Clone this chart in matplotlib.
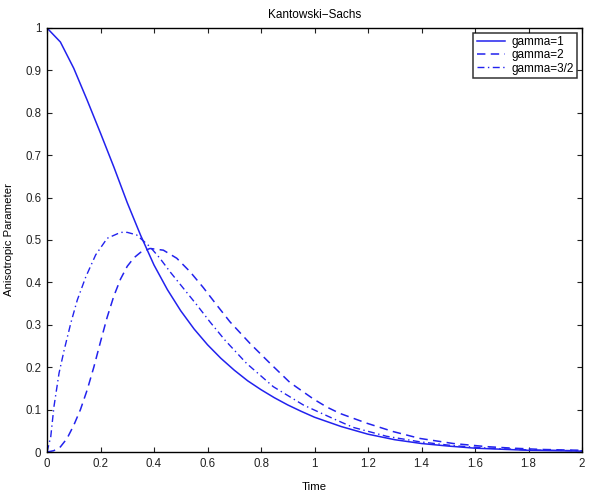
import matplotlib
matplotlib.use("Agg")
import matplotlib.pyplot as plt

plt.rcParams['font.family'] = ['Liberation Sans', 'DejaVu Sans']

# gamma = 1 (solid)
t1 = [0, 0.05, 0.1, 0.15, 0.2, 0.25, 0.3, 0.35, 0.4, 0.45, 0.5, 0.55, 0.6, 0.65,
      0.7, 0.75, 0.8, 0.85, 0.9, 0.95, 1.0, 1.1, 1.2, 1.3, 1.4, 1.5, 1.6, 1.8, 2.0]
v1 = [1, 0.967, 0.905, 0.83, 0.752, 0.672, 0.588, 0.511, 0.441, 0.383, 0.333, 0.29,
      0.253, 0.221, 0.193, 0.168, 0.147, 0.128, 0.111, 0.096, 0.082, 0.06, 0.042,
      0.029, 0.02, 0.014, 0.009, 0.004, 0.002]

# gamma = 2 (dashed)
t2 = [0, 0.025, 0.05, 0.075, 0.1, 0.125, 0.15, 0.175, 0.2, 0.225, 0.25, 0.275,
      0.3, 0.325, 0.35, 0.385, 0.435, 0.485, 0.535, 0.584, 0.634, 0.684, 0.759,
      0.834, 0.908, 0.996, 1.046, 1.095, 1.195, 1.295, 1.394, 1.519, 1.644,
      1.742, 1.85, 2.0]
v2 = [0, 0.003, 0.012, 0.032, 0.063, 0.1, 0.146, 0.2, 0.26, 0.318, 0.368, 0.408,
      0.438, 0.458, 0.471, 0.48, 0.476, 0.457, 0.425, 0.388, 0.347, 0.307, 0.256,
      0.209, 0.164, 0.125, 0.106, 0.091, 0.068, 0.048, 0.032, 0.02, 0.0126,
      0.009, 0.006, 0.004]

# gamma = 3/2 (dash-dot)
t3 = [0, 0.014, 0.026, 0.045, 0.064, 0.089, 0.113, 0.145, 0.182, 0.225, 0.275,
      0.3, 0.335, 0.385, 0.422, 0.46, 0.51, 0.56, 0.609, 0.665, 0.746, 0.846,
      0.958, 1.02, 1.083, 1.145, 1.27, 1.394, 1.518, 1.65, 1.8, 2.0]
v3 = [0, 0.036, 0.107, 0.186, 0.24, 0.304, 0.358, 0.413, 0.465, 0.504, 0.518,
      0.518, 0.512, 0.484, 0.457, 0.425, 0.386, 0.347, 0.307, 0.264, 0.209, 0.154,
      0.111, 0.093, 0.075, 0.058, 0.037, 0.024, 0.015, 0.009, 0.005, 0.003]

labels = ['gamma=1', 'gamma=2', 'gamma=3/2']
xticks = [0, 0.2, 0.4, 0.6, 0.8, 1, 1.2, 1.4, 1.6, 1.8, 2]
xticklabels = ['0', '0.2', '0.4', '0.6', '0.8', '1', '1.2', '1.4', '1.6', '1.8', '2']
yticks = [0, 0.1, 0.2, 0.3, 0.4, 0.5, 0.6, 0.7, 0.8, 0.9, 1]
yticklabels = ['0', '0.1', '0.2', '0.3', '0.4', '0.5', '0.6', '0.7', '0.8', '0.9', '1']

fig = plt.figure(figsize=(5.89, 4.94), dpi=100)
ax = fig.add_axes([47/589, 1-452/494, (582-47)/589, (452-28)/494])

col = '#2222ee'
l1, = ax.plot(t1, v1, color=col, lw=1.1, label=labels[0])
l2, = ax.plot(t2, v2, color=col, lw=1.1, label=labels[1])
l2.set_dashes([5.5, 3.5])
l3, = ax.plot(t3, v3, color=col, lw=1.0, label=labels[2])
l3.set_dashes([5, 2.5, 1, 2.5])

ax.set_xlim(0, 2)
ax.set_ylim(0, 1)
ax.set_xticks(xticks)
ax.set_xticklabels(xticklabels)
ax.set_yticks(yticks)
ax.set_yticklabels(yticklabels)
ax.tick_params(direction='in', length=3.5, width=0.8, top=True, right=True,
               labelsize=8.3, colors='#222222', pad=4)
for s in ax.spines.values():
    s.set_linewidth(1.0)
    s.set_color('black')

ax.set_title('Kantowski\u2212Sachs', fontsize=8.5, pad=7)
ax.set_xlabel('Time', fontsize=8.2, labelpad=9)
ax.set_ylabel('Anisotropic Parameter', fontsize=8.2, labelpad=8)

leg = ax.legend(loc='upper right', fontsize=8.5, frameon=True, fancybox=False,
                edgecolor='black', handlelength=2.4, borderpad=0.3,
                labelspacing=0.1, handletextpad=0.55, borderaxespad=0.4)
leg.get_frame().set_linewidth(1.1)

fig.savefig('out.png', dpi=100)
